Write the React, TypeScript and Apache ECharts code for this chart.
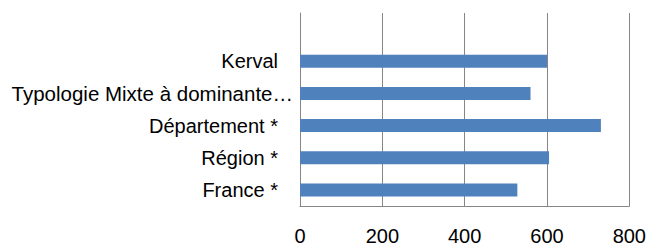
import React, { useEffect, useRef } from "react";
import * as echarts from "echarts";

const categories = ["France *", "Région *", "Département *", "Typologie Mixte à dominante…", "Kerval", ""];
const values: (number | string)[] = [528, 605, 731, 560, 600, "-"];
const xTicks = [0, 200, 400, 600, 800];

export default function App() {
  const ref = useRef<HTMLDivElement>(null);
  useEffect(() => {
    if (!ref.current) return;
    const chart = echarts.init(ref.current, undefined, { renderer: "svg" });
    const font = "'Liberation Sans', Arial, sans-serif";
    chart.setOption({
      animation: false,
      grid: { left: 300, right: 18, top: 13, bottom: 36, containLabel: false },
      xAxis: {
        type: "value",
        min: xTicks[0],
        max: xTicks[xTicks.length - 1],
        interval: 200,
        axisLine: { show: true, lineStyle: { color: "#868686", width: 1 } },
        axisTick: { show: false },
        splitLine: { show: true, lineStyle: { color: "#868686", width: 1 } },
        axisLabel: { color: "#000", fontSize: 20, fontFamily: font, margin: 20 },
      },
      yAxis: {
        type: "category",
        data: categories,
        axisLine: { show: true, lineStyle: { color: "#868686", width: 1 } },
        axisTick: { show: false },
        axisLabel: {
          color: "#000",
          fontSize: 20,
          fontFamily: font,
          margin: 7,
          formatter: (v: string) => (v.startsWith("Typologie") ? `{b|${v}}` : `{a|${v}}`),
          rich: {
            a: { color: "#000", fontSize: 20, fontFamily: font, padding: [0, 15, 0, 0] },
            b: { color: "#000", fontSize: 20.5, fontFamily: font },
          },
        },
      },
      series: [
        {
          type: "bar",
          data: values,
          barWidth: 13,
          itemStyle: { color: "#4F81BD" },
        },
      ],
    });
    return () => chart.dispose();
  }, []);
  return (
    <div
      ref={ref}
      style={{ position: "absolute", left: 0, top: 0, width: 649, height: 246 }}
    />
  );
}
